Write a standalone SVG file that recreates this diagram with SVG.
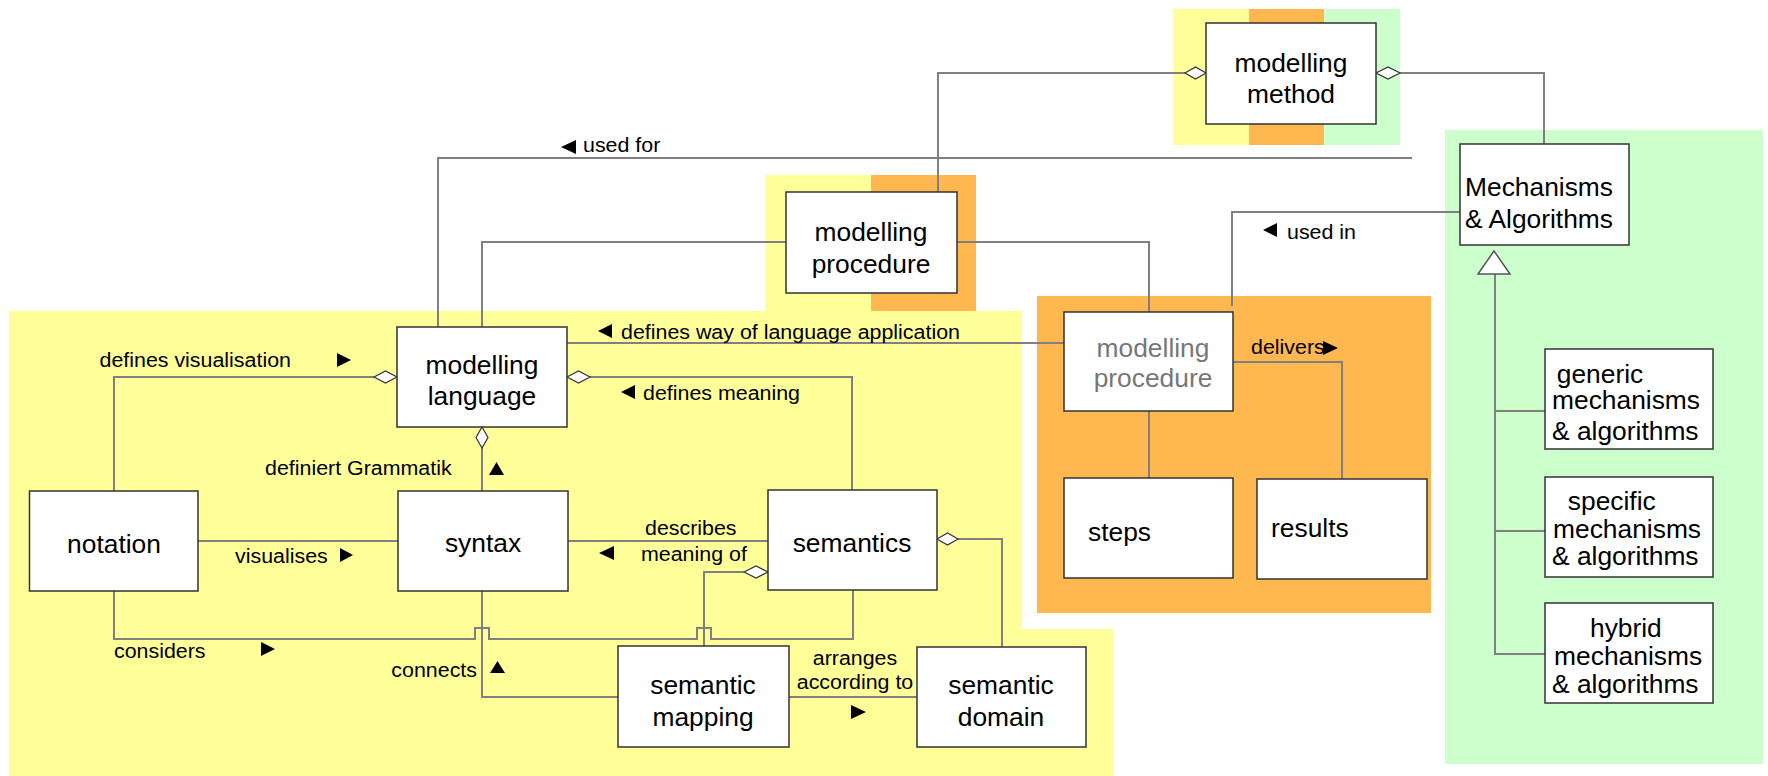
<svg xmlns="http://www.w3.org/2000/svg" width="1768" height="776" viewBox="0 0 1768 776">
<style>
.y{fill:#FFFF99}.o{fill:#FFB74F}.g{fill:#CCFFCC}
.n rect{fill:#fff;stroke:#333;stroke-width:1.5}
.t{font-family:"Liberation Sans",Arial,sans-serif;font-size:25px;fill:#000}
.l{font-family:"Liberation Sans",Arial,sans-serif;font-size:20px;fill:#000}
.c path{fill:none;stroke:#808080;stroke-width:2}
.d{fill:#fff;stroke:#333;stroke-width:1.2}
.a{fill:#000}
</style>
<rect width="1768" height="776" fill="#fff"/>
<g id="backgrounds">
<path class="y" d="M9,311 H1022 V629 H1113 V776 H9 Z"/>
<rect class="y" x="765" y="175" width="106" height="136"/>
<rect class="o" x="871" y="175" width="105" height="136"/>
<rect class="o" x="1037" y="296" width="394" height="317"/>
<rect class="y" x="1173" y="9" width="76" height="136"/>
<rect class="o" x="1249" y="9" width="75" height="136"/>
<rect class="g" x="1324" y="9" width="76" height="136"/>
<rect class="g" x="1445" y="130" width="318" height="634"/>
</g>
<g id="connectors" class="c">
<path d="M114,491 V377 H374"/>
<path d="M198,541 H398"/>
<path d="M482,491 V448"/>
<path d="M590,377 H852 V490"/>
<path d="M567,343 H1064"/>
<path d="M568,541 H768"/>
<path d="M114,591 V639 H475 V628 H489 V639 H697 V628 H711 V639 H853 V590"/>
<path d="M482,591 V697 H618"/>
<path d="M744,572 H704 V646"/>
<path d="M958,539 H1002 V647"/>
<path d="M789,697 H917"/>
<path d="M438,327 V158 H1412"/>
<path d="M482,327 V242 H786"/>
<path d="M957,242 H1149 V312"/>
<path d="M1185,73 H938 V192"/>
<path d="M1400,73 H1544 V144"/>
<path d="M1232,306 V212 H1460"/>
<path d="M1149,411 V478"/>
<path d="M1233,362 H1342 V479"/>
<path d="M1495,274 V654 H1545 M1495,411 H1545 M1495,531 H1545"/>
<polygon class="d" points="374,377 385.5,371 397,377 385.5,383"/>
<polygon class="d" points="567,377 578.5,371 590,377 578.5,383"/>
<polygon class="d" points="482,427 488,437.5 482,448 476,437.5"/>
<polygon class="d" points="744,572 756,566 768,572 756,578"/>
<polygon class="d" points="937,539 947.5,533 958,539 947.5,545"/>
<polygon class="d" points="1185,73 1195.5,67 1206,73 1195.5,79"/>
<polygon class="d" points="1376,73 1388,67 1400,73 1388,79"/>
<polygon points="1494,251 1478,274 1510,274" fill="#fff" stroke="#555" stroke-width="1.5"/>
</g>
<g id="labels">
<text class="l" transform="translate(99.5,0) scale(1.07,1)" y="367">defines visualisation</text>
<polygon class="a" points="337,353 351,360 337,367"/>
<polygon class="a" points="598,331 612,324 612,338"/>
<text class="l" transform="translate(621,0) scale(1.07,1)" y="339">defines way of language application</text>
<polygon class="a" points="621,392 635,385 635,399"/>
<text class="l" transform="translate(643,0) scale(1.07,1)" y="400">defines meaning</text>
<text class="l" transform="translate(265,0) scale(1.07,1)" y="475">definiert Grammatik</text>
<polygon class="a" points="496.5,462 504,475 489,475"/>
<text class="l" transform="translate(235,0) scale(1.07,1)" y="563">visualises</text>
<polygon class="a" points="340,548 353,555 340,562"/>
<text class="l" transform="translate(645,0) scale(1.07,1)" y="535">describes</text>
<text class="l" transform="translate(641,0) scale(1.07,1)" y="561">meaning of</text>
<polygon class="a" points="599,553 614,546 614,560"/>
<text class="l" transform="translate(114,0) scale(1.07,1)" y="658">considers</text>
<polygon class="a" points="261,642 275,649 261,656"/>
<text class="l" transform="translate(477,0) scale(1.07,1)" y="677" text-anchor="end">connects</text>
<polygon class="a" points="497.5,661 505,673 490,673"/>
<text class="l" transform="translate(855,0) scale(1.07,1)" y="665" text-anchor="middle">arranges</text>
<text class="l" transform="translate(855,0) scale(1.07,1)" y="689" text-anchor="middle">according to</text>
<polygon class="a" points="851,705 866,712 851,719"/>
<polygon class="a" points="561,147 576,140 576,154"/>
<text class="l" transform="translate(583,0) scale(1.07,1)" y="152">used for</text>
<polygon class="a" points="1263,230 1277,223 1277,237"/>
<text class="l" transform="translate(1287,0) scale(1.07,1)" y="239">used in</text>
<text class="l" transform="translate(1251,0) scale(1.07,1)" y="354">delivers</text>
<polygon class="a" points="1323,341 1338,348 1323,355"/>
</g>
<g id="modelling-method" class="n"><rect x="1206" y="23" width="170" height="101"/>
<text class="t" transform="translate(1291,0) scale(1.055,1)" text-anchor="middle"><tspan x="0" y="72">modelling</tspan><tspan x="0" y="103">method</tspan></text></g>
<g id="modelling-procedure" class="n"><rect x="786" y="192" width="171" height="101"/>
<text class="t" transform="translate(871,0) scale(1.055,1)" text-anchor="middle"><tspan x="0" y="241">modelling</tspan><tspan x="0" y="273">procedure</tspan></text></g>
<g id="modelling-language" class="n"><rect x="397" y="327" width="170" height="100"/>
<text class="t" transform="translate(482,0) scale(1.055,1)" text-anchor="middle"><tspan x="0" y="374">modelling</tspan><tspan x="0" y="405">language</tspan></text></g>
<g id="modelling-procedure-2" class="n"><rect x="1064" y="312" width="169" height="99"/>
<text class="t" transform="translate(1153,0) scale(1.055,1)" text-anchor="middle" style="fill:#777"><tspan x="0" y="357">modelling</tspan><tspan x="0" y="387">procedure</tspan></text></g>
<g id="notation" class="n"><rect x="29.5" y="491" width="168.5" height="100"/>
<text class="t" transform="translate(114,0) scale(1.055,1)" text-anchor="middle" y="553">notation</text></g>
<g id="syntax" class="n"><rect x="398" y="491" width="170" height="100"/>
<text class="t" transform="translate(483,0) scale(1.055,1)" text-anchor="middle" y="552">syntax</text></g>
<g id="semantics" class="n"><rect x="768" y="490" width="169" height="100"/>
<text class="t" transform="translate(852,0) scale(1.055,1)" text-anchor="middle" y="552">semantics</text></g>
<g id="semantic-mapping" class="n"><rect x="618" y="646" width="171" height="101"/>
<text class="t" transform="translate(703,0) scale(1.055,1)" text-anchor="middle"><tspan x="0" y="694">semantic</tspan><tspan x="0" y="726">mapping</tspan></text></g>
<g id="semantic-domain" class="n"><rect x="917" y="647" width="169" height="100"/>
<text class="t" transform="translate(1001,0) scale(1.055,1)" text-anchor="middle"><tspan x="0" y="694">semantic</tspan><tspan x="0" y="726">domain</tspan></text></g>
<g id="steps" class="n"><rect x="1064" y="478" width="169" height="100"/>
<text class="t" transform="translate(1088,0) scale(1.055,1)" y="541">steps</text></g>
<g id="results" class="n"><rect x="1257" y="479" width="170" height="100"/>
<text class="t" transform="translate(1271,0) scale(1.055,1)" y="537">results</text></g>
<g id="mechanisms" class="n"><rect x="1460" y="144" width="169" height="101"/>
<text class="t" transform="translate(1465,0) scale(1.055,1)"><tspan x="0" y="196">Mechanisms</tspan><tspan x="0" y="228">&amp; Algorithms</tspan></text></g>
<g id="generic" class="n"><rect x="1545" y="349" width="168" height="100"/>
<text class="t" transform="translate(1552,0) scale(1.055,1)"><tspan x="4.5" y="383">generic</tspan><tspan x="0" y="409">mechanisms</tspan><tspan x="0" y="440">&amp; algorithms</tspan></text></g>
<g id="specific" class="n"><rect x="1545" y="477" width="168" height="100"/>
<text class="t" transform="translate(1552,0) scale(1.055,1)"><tspan x="15" y="510">specific</tspan><tspan x="1" y="538">mechanisms</tspan><tspan x="0" y="565">&amp; algorithms</tspan></text></g>
<g id="hybrid" class="n"><rect x="1545" y="603" width="168" height="100"/>
<text class="t" transform="translate(1552,0) scale(1.055,1)"><tspan x="36" y="637">hybrid</tspan><tspan x="2" y="665">mechanisms</tspan><tspan x="0" y="693">&amp; algorithms</tspan></text></g>
</svg>
